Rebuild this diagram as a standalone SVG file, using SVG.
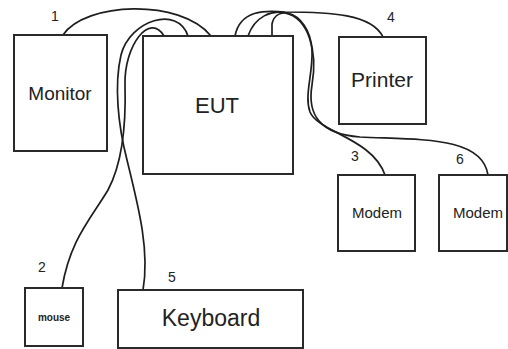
<svg xmlns="http://www.w3.org/2000/svg" width="508" height="349" viewBox="0 0 508 349">
<style>
.box{fill:#fff;stroke:#2a2a2a;stroke-width:2}
.cable{fill:none;stroke:#1e1e1e;stroke-width:1.7}
text{font-family:"Liberation Sans",Arial,sans-serif;fill:#222;text-anchor:middle}
.num{font-size:14px}
</style>
<rect width="508" height="349" fill="#fff"/>
<g id="connectors">
<path class="cable" d="M63,35 C 85,2 180,-2 211,36"/>
<path class="cable" d="M143,290 C 150,250 138,205 127,160 C 118,125 114,85 121,55 C 130,20 178,5 188,36"/>
<path class="cable" d="M62,288 C 70,240 90,220 108,190 C 124,160 126,120 125,85 C 124,45 150,12 164,36"/>
<path class="cable" d="M235,36 C 240,10 265,10 285,12 C 330,12 372,14 383,37"/>
<path class="cable" d="M248,36 C 255,16 272,10 285,13 C 308,18 318,50 312,85 C 307,115 320,134 360,137 C 420,140 482,136 488,175"/>
<path class="cable" d="M272,36 L 272,24 C 274,14 282,12 288,13 C 300,16 311,30 312,50 C 313,75 304,95 310,112 C 318,132 372,138 385,175"/>
</g>
<g id="monitor"><rect class="box" x="14" y="35" width="93" height="116"/><text x="60" y="100" font-size="19">Monitor</text></g>
<g id="eut"><rect class="box" x="143" y="36" width="150" height="138"/><text x="217" y="113" font-size="22">EUT</text></g>
<g id="printer"><rect class="box" x="339" y="37" width="87" height="87"/><text x="382" y="87" font-size="21">Printer</text></g>
<g id="modem1"><rect class="box" x="338" y="175" width="77" height="76"/><text x="377" y="218" font-size="15">Modem</text></g>
<g id="modem2"><rect class="box" x="439" y="175" width="68" height="76"/><text x="478" y="218" font-size="15">Modem</text></g>
<g id="mouse"><rect class="box" x="25" y="288" width="58" height="58"/><text x="54" y="321" font-size="10" font-weight="bold">mouse</text></g>
<g id="keyboard"><rect class="box" x="118" y="290" width="185" height="58"/><text x="211" y="326" font-size="23">Keyboard</text></g>
<g id="labels">
<text class="num" x="55" y="21">1</text>
<text class="num" x="42" y="272">2</text>
<text class="num" x="355" y="161">3</text>
<text class="num" x="391" y="22">4</text>
<text class="num" x="172" y="282">5</text>
<text class="num" x="460" y="164">6</text>
</g>
</svg>
